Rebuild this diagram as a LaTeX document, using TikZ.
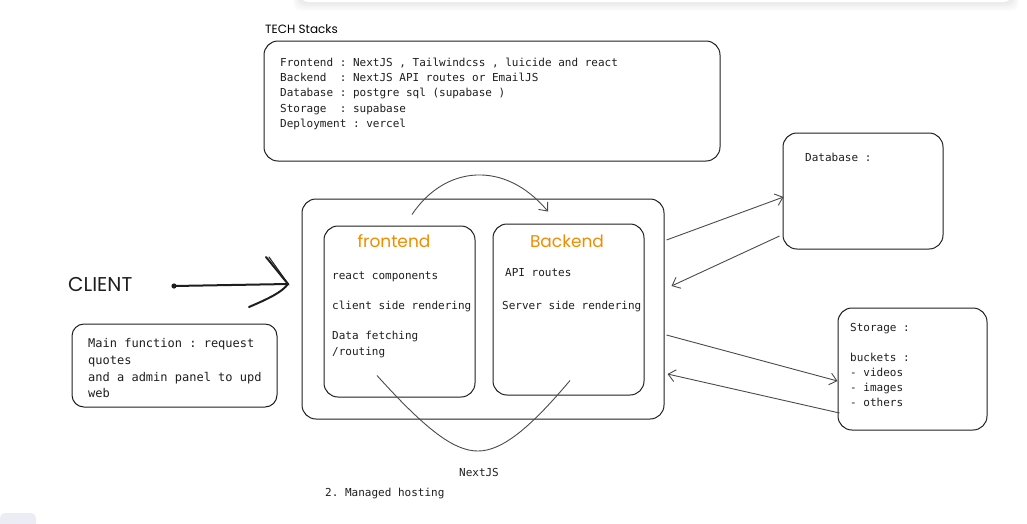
\documentclass[tikz,border=0pt]{standalone}
\usepackage{fontspec}
\setmonofont{DejaVu Sans Mono}
\newfontfamily\handf{Poppins}
\usetikzlibrary{arrows.meta}
\definecolor{ink}{HTML}{1E1E1E}
\definecolor{xorange}{HTML}{F08C00}
\definecolor{edgegray}{HTML}{4A4A4A}
\definecolor{chipgray}{HTML}{ECECF4}
\begin{document}
\begin{tikzpicture}[x=1pt,y=-1pt,
  box/.style={draw=ink, line width=1pt, rounded corners=14pt, inner sep=0pt},
  txt/.style={font=\ttfamily\fontsize{11}{13}\selectfont, anchor=base west, inner sep=0pt, text=ink},
  bigtxt/.style={font=\ttfamily\fontsize{12}{14}\selectfont, anchor=base west, inner sep=0pt, text=ink},
  handtxt/.style={font=\handf\fontsize{#1}{#1}\selectfont, inner sep=0pt, anchor=base},
  conn/.style={draw=edgegray, line width=0.9pt, -{Straight Barb[length=7pt,width=12pt]}},
  curveline/.style={draw=edgegray, line width=0.9pt},
  clientline/.style={draw=ink, line width=2pt, line cap=round, line join=round}]
\useasboundingbox (0,0) rectangle (1027,523);

% faint toolbar shadow at the top and chip at the bottom left
\foreach \i in {1,...,7}
  \fill[black, opacity=0.01, rounded corners=8pt] (300-\i,-30) rectangle (1012+\i,2+1.3*\i);
\fill[white, rounded corners=8pt] (300,-30) rectangle (1012,2);
\fill[chipgray, rounded corners=5pt] (0,513) rectangle (36,540);

% boxes
\node[box, minimum width=456pt, minimum height=120pt] (tech) at (492,101) {};
\node[box, minimum width=362pt, minimum height=220pt] (outer) at (483,309) {};
\node[box, minimum width=151pt, minimum height=171pt] (front) at (399.5,311.5) {};
\node[box, minimum width=151pt, minimum height=171pt] (back) at (568.5,309.5) {};
\node[box, minimum width=205pt, minimum height=83pt, rounded corners=12pt] (mainfn) at (174.5,365.5) {};
\node[box, minimum width=160pt, minimum height=116pt] (db) at (863,191) {};
\node[box, minimum width=149pt, minimum height=122pt] (storage) at (912.5,369) {};

% tech stacks
\node[handtxt=12, anchor=base west] (techtitle) at (265,33) {TECH Stacks};
\node[txt] (t1) at (280,66.5) {Frontend : NextJS , Tailwindcss , luicide and react};
\node[txt] (t2) at (280,81.7) {Backend\ \ : NextJS API routes or EmailJS};
\node[txt] (t3) at (280,96.9) {Database : postgre sql (supabase )};
\node[txt] (t4) at (280,112.1) {Storage\ \ : supabase};
\node[txt] (t5) at (280,127.3) {Deployment : vercel};

% frontend
\node[handtxt=17, text=xorange] (ftitle) at (394,247) {frontend};
\node[txt] (f1) at (332,279) {react components};
\node[txt] (f2) at (332,309) {client side rendering};
\node[txt] (f3) at (332,339.5) {Data fetching};
\node[txt] (f4) at (332,355) {/routing};

% backend
\node[handtxt=17, text=xorange] (btitle) at (567,247) {Backend};
\node[txt] (b1) at (505,276.5) {API routes};
\node[txt] (b2) at (502,309) {Server side rendering};

% client
\node[handtxt=20, anchor=base west, text=ink] (client) at (68,291) {CLIENT};
\coordinate (clientdot) at (174,286);
\coordinate (clienttip) at (288,284);
\coordinate (barbup) at (266,257);
\coordinate (barblow) at (249,307);
\fill[ink] (clientdot) circle (2.6pt);
\draw[clientline] (clientdot) -- (clienttip);
\draw[clientline] (barbup) -- (clienttip) .. controls (282,292) and (270,298) .. (barblow);
\draw[ink, line width=1pt, line cap=round] ([xshift=3pt]barbup) -- ([xshift=1pt,yshift=-1pt]clienttip);

% main function
\node[bigtxt] (m1) at (88,347.7) {Main function : request};
\node[bigtxt] (m2) at (88,364) {quotes};
\node[bigtxt] (m3) at (88,381) {and a admin panel to upd};
\node[bigtxt] (m4) at (88,397.3) {web};

% database & storage texts
\node[txt] (d1) at (805,161.3) {Database :};
\node[txt] (s1) at (850,331.3) {Storage :};
\node[txt] (s2) at (850,361.3) {buckets :};
\node[txt] (s3) at (850,376) {- videos};
\node[txt] (s4) at (850,391) {- images};
\node[txt] (s5) at (850,406) {- others};

% bottom labels
\node[txt, anchor=base] (nextjs) at (479,476) {NextJS};
\node[txt] (hosting) at (325,496) {2. Managed hosting};

% connectors
\draw[conn] ([xshift=2pt,yshift=69pt]outer.east) -- ([xshift=1pt,yshift=-6pt]db.west);
\draw[conn] ([xshift=-3pt,yshift=-45pt]db.west) -- ([xshift=7pt,yshift=23pt]outer.east);
\draw[conn] ([xshift=2pt,yshift=-26pt]outer.east) -- ([yshift=-12pt]storage.west);
\draw[conn] ([xshift=2pt,yshift=-44pt]storage.west) -- ([xshift=3pt,yshift=-65pt]outer.east);

\draw[curveline, -{Straight Barb[length=7pt,width=12pt]}]
  ([xshift=12.5pt,yshift=11pt]front.north) .. controls (445,165) and (505,160) .. ([xshift=-20.5pt,yshift=12pt]back.north);
\coordinate (loop) at (478,451);
\draw[curveline]
  ([xshift=-22.5pt,yshift=22pt]front.south) .. controls (428,432) and (455,451) .. (loop)
  .. controls (502,451) and (530,428) .. ([xshift=1.5pt,yshift=15pt]back.south);
\end{tikzpicture}
\end{document}
